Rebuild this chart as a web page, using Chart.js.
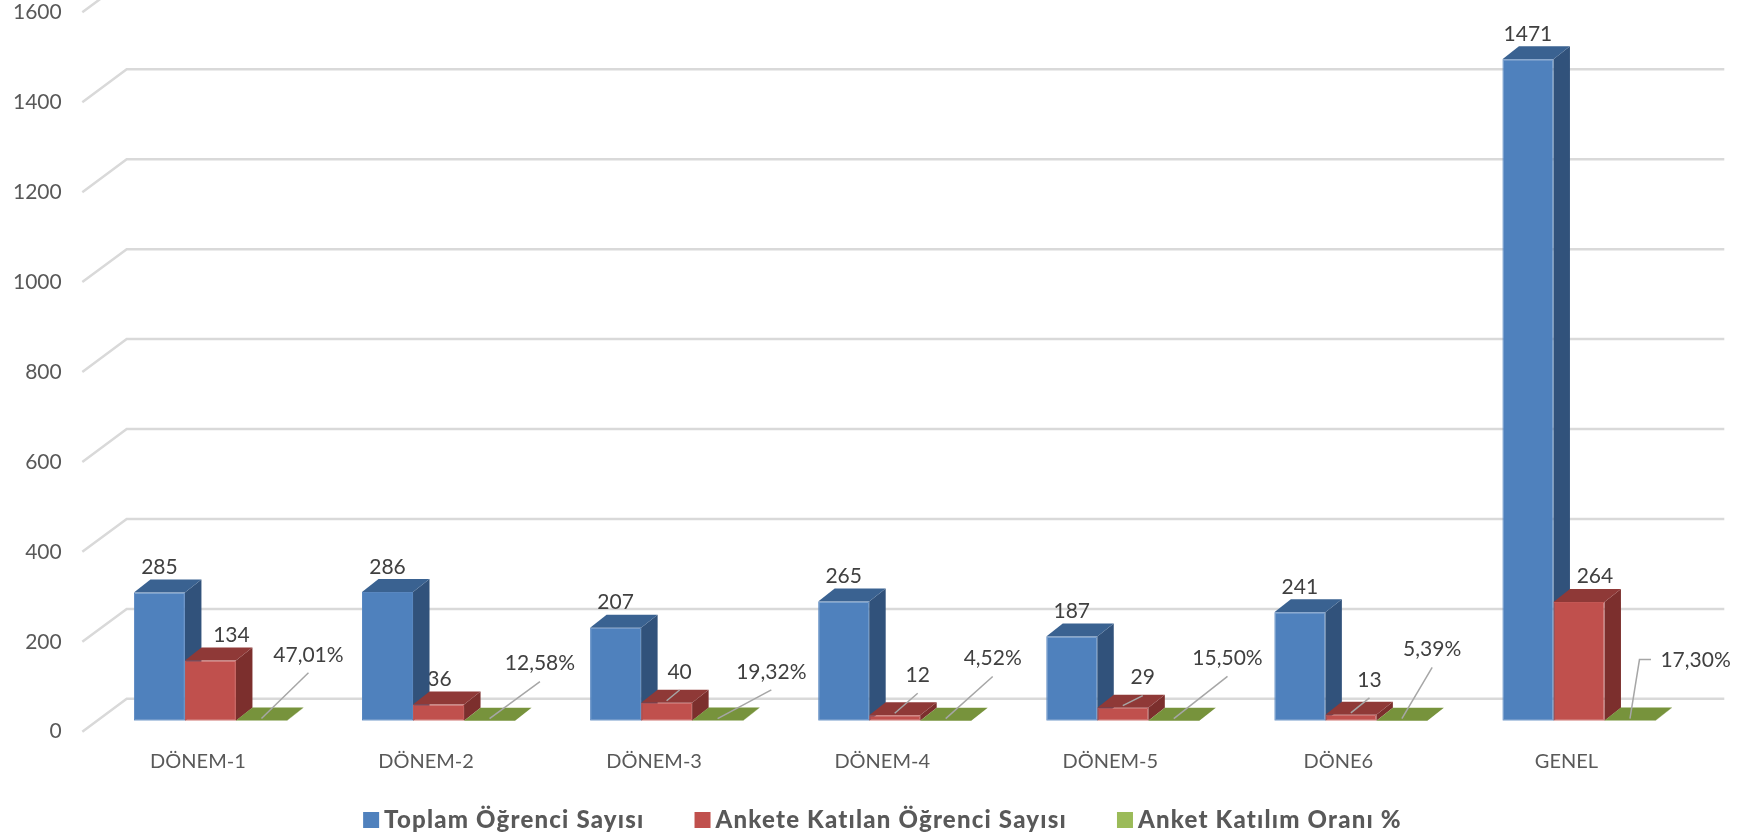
<!DOCTYPE html>
<html lang="tr">
<head>
<meta charset="utf-8">
<title>Anket Katılımı</title>
<script src="https://cdn.jsdelivr.net/npm/chart.js@4"></script>
<style>
    html, body { margin: 0; padding: 0; background: #fff; }
    canvas { display: block; }
</style>
</head>
<body>
<canvas id="chart" width="1753" height="838"></canvas>
<script>
// Chart data
const categories = ['DÖNEM-1', 'DÖNEM-2', 'DÖNEM-3', 'DÖNEM-4', 'DÖNEM-5', 'DÖNE6', 'GENEL'];
const toplamOgrenci = [285, 286, 207, 265, 187, 241, 1471];
const anketeKatilan = [134, 36, 40, 12, 29, 13, 264];
const katilimOrani = [0.4701, 0.1258, 0.1932, 0.0452, 0.155, 0.0539, 0.173];

const FONT = 'Lato, "Open Sans", sans-serif';

// Fake 3D look, the depth of a bar and of the floor/walls
const BAR_DX = 16.5, BAR_DY = 13;
const WALL_DX = 30.3, WALL_DY = 21.9, FRONT_DX = 14.1, FRONT_DY = 11;

const faceColors = [
    { side: '#31527B', top: '#3A6291' },
    { side: '#7C2F2D', top: '#8F3937' },
    { side: '#77933C', top: '#77933C' }
];

// Where the labels were dragged to in the original, relative to the top of each bar
const labelShift = [
    categories.map(() => [0, -25]),
    [[21, -25.5], [1, -25.5], [13, -30.7], [23, -40], [20, -30], [18.6, -35], [16, -25.3]],
    [[47, -65.7], [50.4, -57], [53.7, -48.7], [47, -62.2], [53.7, -62.2], [30.3, -71.4], [65.6, -60]]
];

function labelText(datasetIndex, value) {
    if (datasetIndex === 2) return (value * 100).toFixed(2).replace('.', ',') + '%';
    return String(value);
}

// Walls, side and top faces of the bars, labels (under the bars, the 36 is half hidden)
const depthPlugin = {
    id: 'depth',
    beforeDatasetsDraw(chart) {
        const ctx = chart.ctx;
        const area = chart.chartArea;
        const yScale = chart.scales.y;

        ctx.save();
        ctx.strokeStyle = '#D9D9D9';
        ctx.lineWidth = 2.5;
        yScale.ticks.forEach(tick => {
            const y = yScale.getPixelForValue(tick.value);
            ctx.beginPath();
            ctx.moveTo(area.left - FRONT_DX, y + FRONT_DY);
            ctx.lineTo(area.left + WALL_DX, y - WALL_DY);
            ctx.lineTo(area.right + WALL_DX + 1, y - WALL_DY);
            ctx.stroke();
        });

        ctx.font = '21px ' + FONT;
        ctx.fillStyle = '#404040';
        ctx.textAlign = 'center';
        ctx.textBaseline = 'middle';
        chart.data.datasets.forEach((dataset, d) => {
            chart.getDatasetMeta(d).data.forEach((bar, i) => {
                const shift = labelShift[d][i];
                ctx.fillText(labelText(d, dataset.data[i]), bar.x + shift[0], bar.y + shift[1]);
            });
        });

        chart.data.datasets.forEach((dataset, d) => {
            chart.getDatasetMeta(d).data.forEach(bar => {
                const left = bar.x - bar.width / 2;
                const right = bar.x + bar.width / 2;

                ctx.fillStyle = faceColors[d].side;
                ctx.beginPath();
                ctx.moveTo(right, bar.y);
                ctx.lineTo(right + BAR_DX, bar.y - BAR_DY);
                ctx.lineTo(right + BAR_DX, bar.base - BAR_DY);
                ctx.lineTo(right, bar.base);
                ctx.closePath();
                ctx.fill();

                ctx.fillStyle = faceColors[d].top;
                ctx.beginPath();
                ctx.moveTo(left, bar.y);
                ctx.lineTo(left + BAR_DX, bar.y - BAR_DY);
                ctx.lineTo(right + BAR_DX, bar.y - BAR_DY);
                ctx.lineTo(right, bar.y);
                ctx.closePath();
                ctx.fill();
            });
        });
        ctx.restore();
    },
    afterDatasetsDraw(chart) {
        const ctx = chart.ctx;
        ctx.save();
        ctx.strokeStyle = '#A6A6A6';
        ctx.lineWidth = 1.5;

        // Leader lines, only for the labels that were moved away from their bar
        [1, 2].forEach(d => {
            chart.getDatasetMeta(d).data.forEach((bar, i) => {
                const shift = labelShift[d][i];
                if (shift[1] > -28) return;
                ctx.beginPath();
                ctx.moveTo(bar.x, bar.y - 2);
                if (d === 2 && i === categories.length - 1) {
                    ctx.lineTo(bar.x + 9.5, bar.y + shift[1] - 1);
                    ctx.lineTo(bar.x + 21, bar.y + shift[1] - 1);
                } else {
                    ctx.lineTo(bar.x + shift[0], bar.y + shift[1] + 18);
                }
                ctx.stroke();
            });
        });
        ctx.restore();
    }
};

// Legend with wide letter spacing, the built-in one can't do that
const legendPlugin = {
    id: 'bottomLegend',
    afterDraw(chart) {
        const ctx = chart.ctx;
        const gap = 50, boxSize = 16, boxGap = 5, centerX = 882.5, y = 820;

        ctx.save();
        ctx.font = '900 24px ' + FONT;
        ctx.letterSpacing = '1.2px';
        ctx.textAlign = 'left';
        ctx.textBaseline = 'middle';

        const widths = chart.data.datasets.map(ds => ctx.measureText(ds.label).width);
        const total = widths.reduce((sum, w) => sum + w + boxSize + boxGap, 0) + gap * (widths.length - 1);
        let x = centerX - total / 2;

        chart.data.datasets.forEach((ds, d) => {
            ctx.fillStyle = ds.legendColor;
            ctx.fillRect(x, y - boxSize / 2, boxSize, boxSize);
            ctx.fillStyle = '#595959';
            ctx.fillText(ds.label, x + boxSize + boxGap, y);
            x += boxSize + boxGap + widths[d] + gap;
        });
        ctx.restore();
    }
};

const ctx = document.getElementById('chart').getContext('2d');
const chart = new Chart(ctx, {
    type: 'bar',
    data: {
        labels: categories,
        datasets: [
            {
                label: 'Toplam Öğrenci Sayısı',
                data: toplamOgrenci,
                backgroundColor: '#4F81BD',
                borderColor: '#5987C0',
                legendColor: '#4F81BD'
            },
            {
                label: 'Ankete Katılan Öğrenci Sayısı',
                data: anketeKatilan,
                backgroundColor: '#C0504D',
                borderColor: '#C35754',
                legendColor: '#C0504D'
            },
            {
                label: 'Anket Katılım Oranı %',
                data: katilimOrani,
                backgroundColor: '#9BBB59',
                borderColor: '#9BBB59',
                legendColor: '#9BBB59'
            }
        ]
    },
    options: {
        responsive: false,
        animation: false,
        layout: {
            autoPadding: false,
            padding: { left: 0, right: 60, top: 1.3, bottom: 0 }
        },
        datasets: {
            bar: {
                barPercentage: 1,
                categoryPercentage: 0.671,
                borderWidth: 1,
                borderSkipped: false
            }
        },
        plugins: {
            legend: { display: false },
            tooltip: { enabled: false }
        },
        scales: {
            x: {
                grid: { display: false },
                border: { display: false },
                ticks: {
                    color: '#595959',
                    font: { family: FONT, size: 20 },
                    padding: 21,
                    labelOffset: -12.5,
                    maxRotation: 0,
                    autoSkip: false
                },
                afterFit(scale) { scale.height = 117.3; }
            },
            y: {
                min: 0,
                max: 1600,
                grid: { display: false, drawTicks: false },
                border: { display: false },
                ticks: {
                    stepSize: 200,
                    color: '#595959',
                    font: { family: FONT, size: 21 },
                    padding: 34.7,
                    labelOffset: 11,
                    callback: value => String(value)
                },
                // tick padding must not push the top of the plot down
                afterFit(scale) {
                    scale.width = 96.4;
                    scale.paddingTop = 0;
                    scale.paddingBottom = 0;
                }
            }
        }
    },
    plugins: [depthPlugin, legendPlugin]
});
</script>
</body>
</html>
